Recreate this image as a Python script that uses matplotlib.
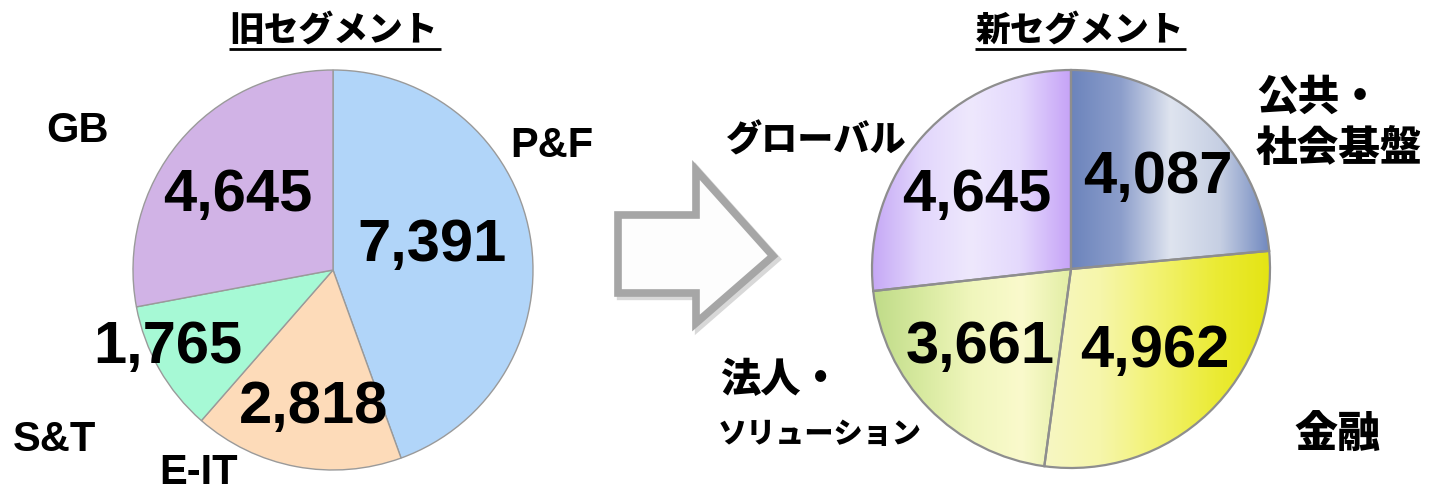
import matplotlib
matplotlib.use("Agg")
import matplotlib.pyplot as plt
import numpy as np
from matplotlib import font_manager
from matplotlib.colors import LinearSegmentedColormap
from matplotlib.patches import Polygon

# ---------------- data ----------------
old_title = "旧セグメント"
old_labels = ["P&F", "E-IT", "S&T", "GB"]
old_values = [7391, 2818, 1765, 4645]
old_colors = ["#b1d5f9", "#fddbb9", "#a6f9d5", "#d1b3e6"]

new_title = "新セグメント"
new_labels = ["公共・\n社会基盤", "金融", "法人・\nソリューション", "グローバル"]
new_values = [4087, 4962, 3661, 4645]
new_gradients = [
    ["#6c84bc", "#8c9ecb", "#dfe4ef", "#c6cfe3", "#7088bf"],
    ["#f7f7c4", "#f6f6aa", "#f2f270", "#ebeb36", "#e4e412"],
    ["#bfdb88", "#d8eaa0", "#f0f6bc", "#fafacc", "#e2eea4"],
    ["#c4a6f5", "#e2d6fc", "#eee8fd", "#e4d9fd", "#c6a3f7"],
]


def pick(fams):
    for f in fams:
        try:
            font_manager.findfont(font_manager.FontProperties(family=f), fallback_to_default=False)
            return f
        except Exception:
            pass
    return "DejaVu Sans"


num_font = pick(["Liberation Sans Narrow", "Liberation Sans", "DejaVu Sans"])
narrow = num_font == "Liberation Sans Narrow"
num_size = 48 if narrow else 43
lab_size = 32 if narrow else 30
jp_font = "Noto Sans CJK JP"
jp_weight = "heavy"

W, H = 1446, 495
fig = plt.figure(figsize=(W / 100, H / 100), dpi=100)
fig.patch.set_facecolor("white")
ax = fig.add_axes([0, 0, 1, 1])


def py(y):  # pixel-from-top to data y
    return H - y


def reset():
    ax.set_xlim(0, W)
    ax.set_ylim(0, H)
    ax.axis("off")
    ax.set_aspect("equal")


# ---------------- left pie ----------------
lc = (333, py(270))
wl, _ = ax.pie(old_values, colors=old_colors, startangle=90, counterclock=False,
               center=lc, radius=200, frame=True,
               wedgeprops=dict(edgecolor="#9a9a9a", linewidth=1.0))
reset()

old_num_pos = [(432, 245), (314, 408), (168, 348), (238, 195)]
for v, (x, y) in zip(old_values, old_num_pos):
    ax.text(x, py(y), f"{v:,}", ha="center", va="center", fontsize=num_size,
            fontweight="bold", family=num_font, color="black", zorder=5)

old_lab_pos = [(552, 146), (199, 473), (55, 440), (78, 131)]
for t, (x, y) in zip(old_labels, old_lab_pos):
    ax.text(x, py(y), t, ha="center", va="center", fontsize=lab_size,
            fontweight="bold", family=num_font, color="black", zorder=5)

# ---------------- right pie ----------------
rc = (1071, py(269))
wr, _ = ax.pie(new_values, colors=["none"] * 4, startangle=90, counterclock=False,
               center=rc, radius=199, frame=True,
               wedgeprops=dict(edgecolor="#8e8e8e", linewidth=1.6))
reset()

for w, stops in zip(wr, new_gradients):
    path = w.get_path().transformed(w.get_patch_transform())
    verts = path.vertices
    x0, x1 = verts[:, 0].min(), verts[:, 0].max()
    y0, y1 = verts[:, 1].min(), verts[:, 1].max()
    cmap = LinearSegmentedColormap.from_list("g", stops)
    grad = np.linspace(0, 1, 256).reshape(1, -1)
    im = ax.imshow(grad, cmap=cmap, extent=(x0, x1, y0, y1), aspect="auto",
                   zorder=w.get_zorder() - 0.1, interpolation="bicubic")
    im.set_clip_path(w)
    w.set_zorder(w.get_zorder() + 0.5)
reset()

new_num_pos = [(1158, 178), (1155, 352), (980, 348), (977, 195)]
for v, (x, y) in zip(new_values, new_num_pos):
    ax.text(x, py(y), f"{v:,}", ha="center", va="center", fontsize=num_size,
            fontweight="bold", family=num_font, color="black", zorder=5)

# labels for new segments
l0a, l0b = new_labels[0].split("\n")
l2a, l2b = new_labels[2].split("\n")
ax.text(1256, py(98), l0a, ha="left", va="center",
        fontsize=30, fontweight=jp_weight, family=jp_font, zorder=5)
ax.text(1256, py(149), l0b, ha="left", va="center",
        fontsize=30, fontweight=jp_weight, family=jp_font, zorder=5)
ax.text(1337, py(435), new_labels[1], ha="center", va="center",
        fontsize=31, fontweight=jp_weight, family=jp_font, zorder=5)
ax.text(720, py(380), l2a, ha="left", va="center",
        fontsize=29, fontweight=jp_weight, family=jp_font, zorder=5)
ax.text(718, py(434), l2b, ha="left", va="center",
        fontsize=21, fontweight=jp_weight, family=jp_font, zorder=5)
ax.text(816, py(140), new_labels[3], ha="center", va="center",
        fontsize=26, fontweight=jp_weight, family=jp_font, zorder=5)

# ---------------- titles ----------------
for title, cx, x0, x1 in [(old_title, 334, 229, 441), (new_title, 1080, 975, 1186)]:
    ax.text(cx, py(30), title, ha="center", va="center", fontsize=25,
            fontweight=jp_weight, family=jp_font, zorder=5)
    ax.plot([x0, x1], [py(49), py(49)], color="black", lw=2, solid_capstyle="butt", zorder=5)

# ---------------- arrow ----------------
arrow_pts = [(618, 215), (696, 215), (696, 170), (773, 256), (696, 323), (696, 293), (618, 293)]
shadow = Polygon([(x + 3, py(y + 3)) for x, y in arrow_pts], closed=True, facecolor="none",
                 edgecolor="#d8d8d8", lw=6, joinstyle="miter", zorder=2)
ax.add_patch(shadow)
arrow = Polygon([(x, py(y)) for x, y in arrow_pts], closed=True, facecolor="#fdfdfd",
                edgecolor="#a6a6a6", lw=5.5, joinstyle="miter", zorder=3)
ax.add_patch(arrow)

fig.savefig("out.png", dpi=100, facecolor="white")
